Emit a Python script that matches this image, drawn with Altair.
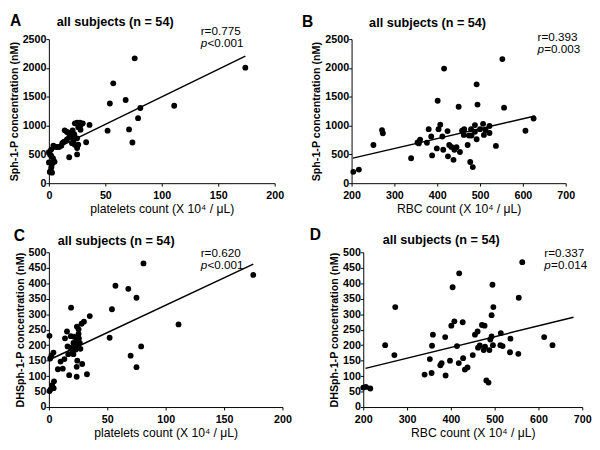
import altair as alt
import pandas as pd

FONT = "Liberation Sans"

# ---------------- Panel A: platelets vs Sph-1-P ----------------
a_x = [174, 76, 57, 54, 68, 81, 111, 79, 52, 71, 74, 36, 33, 18, 25,
       23, 25, 27.5, 30, 26, 28, 14, 16, 18.5, 21, 22.5, 19, 16, 13.5, 11, 9, 7, 4, 2,
       22, 25, 23, 26, 20.5, 25,
       0, 1, 2.2, 3.7, 5, 2.8, 2.2, 1.7, 2.8, 0.8, 0, 28, 18, 12]
a_y = [2005, 2167, 1733, 1383, 1444, 1305, 1344, 1128, 911, 933, 706, 1011, 711, 450, 500,
       1039, 1050, 1050, 1039, 972, 928, 917, 889, 872, 917, 850, 806, 761, 722, 650, 628, 628, 650, 583,
       750, 778, 667, 667, 694, 611,
       539, 500, 472, 428, 372, 333, 278, 222, 183, 194, 361, 1000, 800, 700]
a_line_x = [0, 174]
a_line_y = [545, 2205]

# ---------------- Panel B: RBC vs Sph-1-P ----------------
b_x = [204, 217, 251, 271, 273, 339, 354, 360, 357, 376, 380, 386, 388, 399, 403, 401, 407, 412,
       416, 414, 424, 425, 428, 433, 438, 445, 453, 440, 458, 462, 450, 471, 474, 477, 480, 483,
       488, 488, 492, 492, 494, 500, 507, 509, 522, 522, 513, 552, 537, 556, 606, 625, 479, 463]
b_y = [197, 236, 663, 921, 866, 433, 707, 756, 690, 701, 937, 811, 482, 603, 937, 1430, 1014, 811,
       1989, 581, 904, 466, 663, 630, 405, 625, 542, 581, 910, 838, 1326, 663, 827, 367, 827, 279,
       893, 1008, 762, 1715, 1364, 937, 1030, 838, 992, 871, 921, 2154, 647, 1310, 910, 1123, 937, 937]
b_line_x = [203, 628]
b_line_y = [435, 1167]

# ---------------- Panel C: platelets vs DHSph-1-P ----------------
c_x = [175, 81, 57, 68, 75, 54, 111, 52, 79, 70, 75, 19, 35, 30, 28, 24, 15.5, 25.4, 13.8, 18.8,
       23.8, 21, 16, 18.8, 22, 24.3, 25.7, 20.2, 21, 13.3, 10, 11.9, 7.7, 24.3, 23.8, 28.5, 17.4,
       23.8, 32.6, 0.5, 2.2, 1.1, 3.9, 4.4, 2.8, 1.7, 0.6, 4.1, 26.5, 23, 21.5, 16.6, 25.4, 27]
c_y = [427, 464, 392, 382, 353, 316, 267, 224, 196, 166, 129, 321, 294, 276, 269, 260, 244, 236, 222, 229,
       217, 207, 196, 191, 191, 202, 222, 181, 171, 155, 147, 124, 122, 150, 130, 139, 103,
       98, 106, 230, 166, 157, 176, 83, 71, 58, 52, 61, 207, 186, 227, 171, 251, 188]
c_line_x = [0, 175]
c_line_y = [152, 462]

# ---------------- Panel D: RBC vs DHSph-1-P ----------------
d_x = [200, 206, 216, 250, 271, 273, 340, 352, 356, 357, 359, 376, 379, 388, 387, 398, 401, 404,
       408, 414, 419, 418, 427, 428, 432, 438, 450, 455, 461, 462, 466, 471, 475, 477, 478, 481,
       486, 488, 490, 493, 495, 496, 497, 493, 513, 514, 518, 535, 536, 554, 555, 563, 613, 632]
d_y = [63, 65, 60, 200, 168, 323, 105, 155, 110, 198, 234, 135, 142, 102, 226, 150, 263, 387,
       277, 197, 432, 142, 274, 158, 121, 128, 168, 234, 244, 192, 199, 265, 184, 263, 195, 86,
       79, 184, 218, 297, 395, 200, 323, 228, 200, 239, 197, 177, 221, 172, 353, 468, 226, 200]
d_line_x = [205, 680]
d_line_y = [125, 290]

titles = ["all subjects (n = 54)"] * 4
letters = ["A", "B", "C", "D"]
r_texts = ["r=0.775", "r=0.393", "r=0.620", "r=0.337"]
p_texts = ["<0.001", "=0.003", "<0.001", "=0.014"]

x_ticks_plt = [0, 50, 100, 150, 200]
x_ticks_rbc = [200, 300, 400, 500, 600, 700]
y_ticks_s1p = [0, 500, 1000, 1500, 2000, 2500]
y_ticks_dhs = [0, 50, 100, 150, 200, 250, 300, 350, 400, 450, 500]

X_PLT = "platelets count (X 10\u2074 / \u03bcL)"
X_RBC = "RBC count (X 10\u2074 / \u03bcL)"
Y_S1P = "Sph-1-P concentration (nM)"
Y_DHS = "DHSph-1-P concentration (nM)"


def txt(label, x, y, size=12, weight="normal", style="normal"):
    return alt.Chart(pd.DataFrame({"t": [label]})).mark_text(
        align="left", baseline="alphabetic", font=FONT, fontSize=size,
        fontWeight=weight, fontStyle=style, color="black"
    ).encode(text="t:N", x=alt.value(x), y=alt.value(y))


def axis_common(vals, title, is_x):
    return alt.Axis(
        values=vals, title=title, format="d", grid=False,
        domainColor="black", tickColor="black", labelColor="black", titleColor="black",
        labelFont=FONT, titleFont=FONT, labelFontSize=11, labelFontWeight="bold",
        tickSize=3, labelPadding=(4 if is_x else 0), labelFlush=False, labelOverlap=False,
        domainWidth=1, tickWidth=1,
        titleFontWeight=("normal" if is_x else "bold"),
        titleFontSize=(12.5 if is_x else 11),
        titlePadding=(2 if is_x else 3),
    )


def panel(xs, ys, lx, ly, xdom, xvals, ydom, yvals, xtitle, ytitle, w, h,
          letter, letter_xy, title, title_xy, r, p, rp_xy):
    pts = pd.DataFrame({"x": xs, "y": ys})
    ln = pd.DataFrame({"x": lx, "y": ly})
    xenc = alt.X("x:Q", scale=alt.Scale(domain=xdom, nice=False, zero=False),
                 axis=axis_common(xvals, xtitle, True))
    yenc = alt.Y("y:Q", scale=alt.Scale(domain=ydom, nice=False, zero=False),
                 axis=axis_common(yvals, ytitle, False))
    dots = alt.Chart(pts).mark_point(filled=True, size=36, color="black", opacity=1).encode(x=xenc, y=yenc)
    line = alt.Chart(ln).mark_line(color="black", strokeWidth=1.5).encode(x=xenc, y=yenc)
    layers = [
        dots, line,
        txt(letter, letter_xy[0], letter_xy[1], size=16, weight="bold"),
        txt(title, title_xy[0], title_xy[1], size=13, weight="bold"),
        txt(r, rp_xy[0], rp_xy[1], size=12),
        txt("p", rp_xy[0], rp_xy[1] + 12, size=12, style="italic"),
        txt(p, rp_xy[0] + 7, rp_xy[1] + 12, size=12),
    ]
    return alt.layer(*layers).properties(width=w, height=h)


A = panel(a_x, a_y, a_line_x, a_line_y, [0, 200], x_ticks_plt, [0, 2500], y_ticks_s1p,
          X_PLT, Y_S1P, 232, 148,
          letters[0], (-40, -13), titles[0], (8, -14), r_texts[0], p_texts[0], (156, -4))
B = panel(b_x, b_y, b_line_x, b_line_y, [200, 700], x_ticks_rbc, [0, 2500], y_ticks_s1p,
          X_RBC, Y_S1P, 220, 148,
          letters[1], (-51, -12), titles[1], (18, -12), r_texts[1], p_texts[1], (191, 2))
C = panel(c_x, c_y, c_line_x, c_line_y, [0, 200], x_ticks_plt, [0, 500], y_ticks_dhs,
          X_PLT, Y_DHS, 240, 159,
          letters[2], (-36, -12), titles[2], (9, -8), r_texts[2], p_texts[2], (156, 5))
D = panel(d_x, d_y, d_line_x, d_line_y, [200, 700], x_ticks_rbc, [0, 500], y_ticks_dhs,
          X_RBC, Y_DHS, 225, 159,
          letters[3], (-55, -13), titles[3], (20, -9), r_texts[3], p_texts[3], (186, 5))

chart = alt.vconcat(
    alt.hconcat(A, B, spacing=18),
    alt.hconcat(C, D, spacing=18),
    spacing=12,
).properties(
    padding={"left": 0, "top": 0, "right": 0, "bottom": 0}
).configure_view(stroke=None)

chart.save("out.html", embed_options={"renderer": "svg", "actions": False})
